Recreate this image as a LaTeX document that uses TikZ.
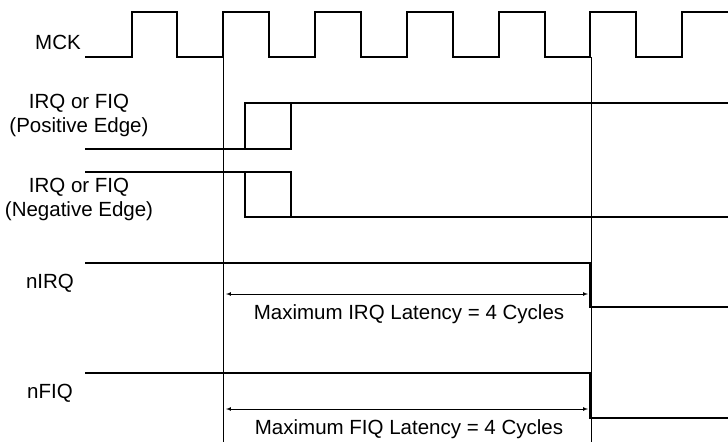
\documentclass[tikz,border=0pt]{standalone}
\usepackage{fontspec}
\setmainfont{Liberation Sans}
\begin{document}
\begin{tikzpicture}[x=1pt,y=-1pt,
  sig/.style={line width=1.6pt},
  guide/.style={line width=0.6pt},
  lbl/.style={font=\fontsize{20.5}{24}\selectfont, inner sep=0pt, align=center},
  dim/.style={line width=0.7pt, <->, >=latex}]
\useasboundingbox (0,0) rectangle (728,442);
% MCK
\draw[sig] (85,57) -- (132,57) -- (132,12) -- (177,12) -- (177,57) -- (223,57) -- (223,12) -- (269,12) -- (269,57)
 -- (315,57) -- (315,12) -- (361,12) -- (361,57) -- (407,57) -- (407,12) -- (453,12) -- (453,57)
 -- (499,57) -- (499,12) -- (545,12) -- (545,57) -- (590,57) -- (590,12) -- (636,12) -- (636,57)
 -- (682,57) -- (682,12) -- (728,12);
% guides
\coordinate (g1t) at (223,57); \coordinate (g1b) at (223,442);
\coordinate (g2t) at (591,57); \coordinate (g2b) at (591,442);
\draw[guide] (g1t) -- (g1b);
\draw[guide] (g2t) -- (g2b);
% positive edge
\draw[sig] (85,149) -- (291,149) -- (291,103);
\draw[sig] (245,149) -- (245,103) -- (728,103);
% negative edge
\draw[sig] (85,172) -- (291,172) -- (291,217);
\draw[sig] (245,172) -- (245,217) -- (728,217);
% nIRQ nFIQ
\draw[sig] (85,263) -- (590,263) -- (590,307) -- (728,307);
\draw[sig] (85,373) -- (590,373) -- (590,418) -- (728,418);
\coordinate (a1) at (226,294); \coordinate (b1) at (588,294);
\coordinate (a2) at (226,409); \coordinate (b2) at (588,409);
\draw[dim] (a1) -- (b1);
\draw[dim] (a2) -- (b2);
\node[lbl] (t1) at (409,314) {Maximum IRQ Latency = 4 Cycles};
\node[lbl] (t2) at (409,429) {Maximum FIQ Latency = 4 Cycles};
% labels
\node[lbl] (mck) at (58,42) {MCK};
\node[lbl] (pos) at (79,115) {IRQ or FIQ\\(Positive Edge)};
\node[lbl] (neg) at (79,199) {IRQ or FIQ\\(Negative Edge)};
\node[lbl] (nirq) at (50,283) {nIRQ};
\node[lbl] (nfiq) at (50,393) {nFIQ};
\end{tikzpicture}
\end{document}
